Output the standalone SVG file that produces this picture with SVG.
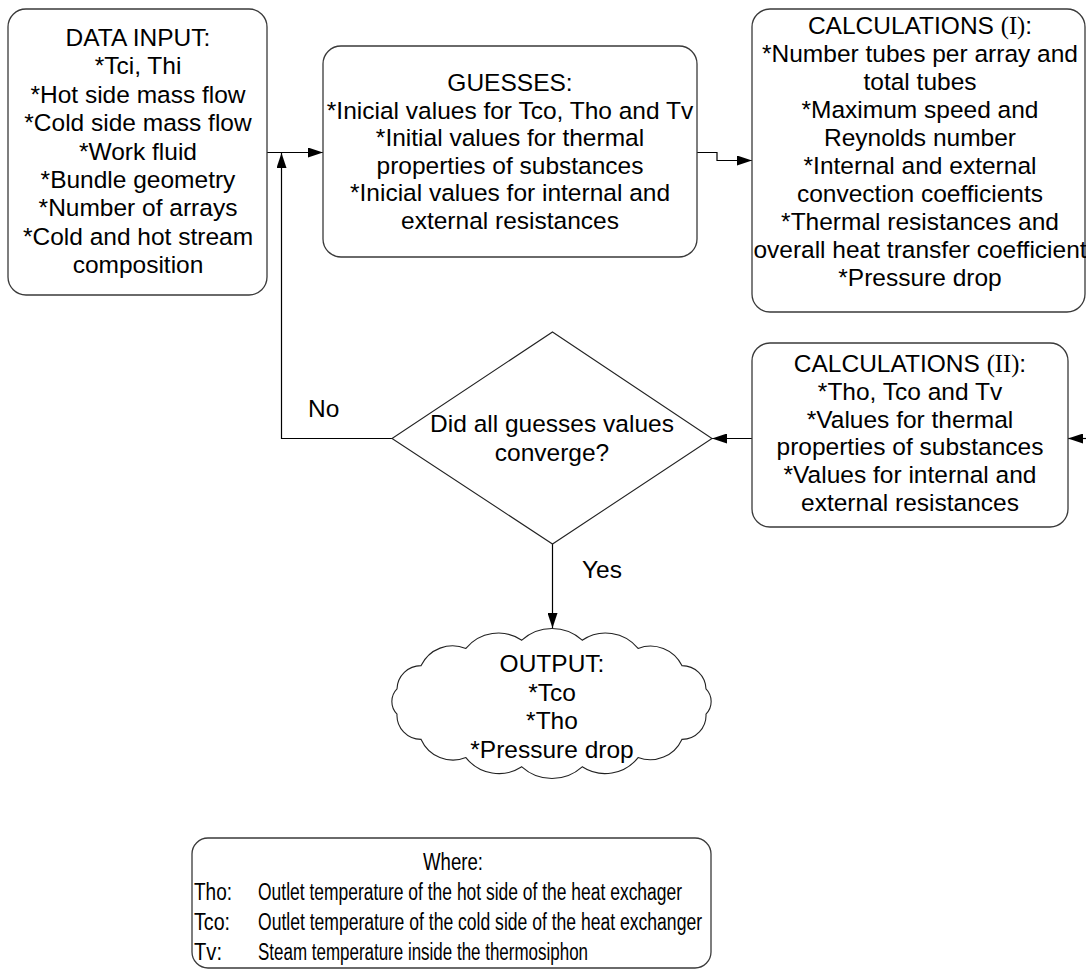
<svg xmlns="http://www.w3.org/2000/svg" width="1086" height="976" viewBox="0 0 1086 976">
  <defs>
    <marker id="arrow" markerUnits="userSpaceOnUse" markerWidth="15" markerHeight="10" refX="15" refY="5" orient="auto">
      <path d="M0,0 L15,5 L0,10 z" fill="#000"/>
    </marker>
    <style>
      .box { fill: #fff; stroke: #3a3a3a; stroke-width: 1.3; }
      .shape { fill: #fff; stroke: #222; stroke-width: 1.1; }
      .txt { font-family: "Liberation Sans", Arial, sans-serif; font-size: 24.5px; fill: #000; text-anchor: middle; }
      .lbl { font-family: "Liberation Sans", Arial, sans-serif; font-size: 24.5px; fill: #000; }
      .leg { font-family: "Liberation Sans", Arial, sans-serif; font-size: 23px; fill: #000; }
      .serif { font-family: "Liberation Serif", "Times New Roman", serif; }
      .conn { fill: none; stroke: #000; stroke-width: 1.2; }
    </style>
  </defs>
  <rect width="1086" height="976" fill="#fff"/>

  <!-- connectors -->
  <g id="connectors">
    <path class="conn" d="M267,152.5 H323" marker-end="url(#arrow)"/>
    <path class="conn" d="M392,438.5 H281.5 V153" marker-end="url(#arrow)"/>
    <path class="conn" d="M697,152.5 H717 V160.5 H752" marker-end="url(#arrow)"/>
    <path class="conn" d="M1095,438.5 H1068" marker-end="url(#arrow)"/>
    <path class="conn" d="M752,438.5 H712" marker-end="url(#arrow)"/>
    <path class="conn" d="M552.5,544 V628" marker-end="url(#arrow)"/>
    <text class="lbl" x="308" y="417">No</text>
    <text class="lbl" x="582" y="578">Yes</text>
  </g>

  <!-- input data -->
  <g id="data-input">
    <rect class="box" x="8" y="9" width="259" height="286" rx="18"/>
    <text class="txt" x="138" y="46">DATA INPUT:</text>
    <text class="txt" x="138" y="74.4">*Tci, Thi</text>
    <text class="txt" x="138" y="102.8">*Hot side mass flow</text>
    <text class="txt" x="138" y="131.2">*Cold side mass flow</text>
    <text class="txt" x="138" y="159.6">*Work fluid</text>
    <text class="txt" x="138" y="188">*Bundle geometry</text>
    <text class="txt" x="138" y="216.4">*Number of arrays</text>
    <text class="txt" x="138" y="244.8">*Cold and hot stream</text>
    <text class="txt" x="138" y="273.2">composition</text>
  </g>

  <!-- initial guesses -->
  <g id="guesses">
    <rect class="box" x="323" y="46" width="374" height="211" rx="18"/>
    <text class="txt" x="510" y="91">GUESSES:</text>
    <text class="txt" x="510" y="118.6">*Inicial values for Tco, Tho and Tv</text>
    <text class="txt" x="510" y="146.2">*Initial values for thermal</text>
    <text class="txt" x="510" y="173.8">properties of substances</text>
    <text class="txt" x="510" y="201.4">*Inicial values for internal and</text>
    <text class="txt" x="510" y="229">external resistances</text>
  </g>

  <!-- first calculation block -->
  <g id="calculations-1">
    <rect class="box" x="752" y="9" width="333" height="303" rx="18"/>
    <text class="txt" x="920" y="34">CALCULATIONS <tspan class="serif">(I)</tspan>:</text>
    <text class="txt" x="920" y="62">*Number tubes per array and</text>
    <text class="txt" x="920" y="90">total tubes</text>
    <text class="txt" x="920" y="118">*Maximum speed and</text>
    <text class="txt" x="920" y="146">Reynolds number</text>
    <text class="txt" x="920" y="174">*Internal and external</text>
    <text class="txt" x="920" y="202">convection coefficients</text>
    <text class="txt" x="920" y="230">*Thermal resistances and</text>
    <text class="txt" x="920" y="258">overall heat transfer coefficient</text>
    <text class="txt" x="920" y="286">*Pressure drop</text>
  </g>

  <!-- second calculation block -->
  <g id="calculations-2">
    <rect class="box" x="752" y="343" width="316" height="184" rx="18"/>
    <text class="txt" x="910" y="372">CALCULATIONS <tspan class="serif">(II)</tspan>:</text>
    <text class="txt" x="910" y="399.8">*Tho, Tco and Tv</text>
    <text class="txt" x="910" y="427.6">*Values for thermal</text>
    <text class="txt" x="910" y="455.4">properties of substances</text>
    <text class="txt" x="910" y="483.2">*Values for internal and</text>
    <text class="txt" x="910" y="511">external resistances</text>
  </g>

  <!-- convergence check -->
  <g id="decision">
    <polygon class="shape" points="552.5,332 712,438.5 552.5,544 392,438.5"/>
    <text class="txt" x="552" y="432">Did all guesses values</text>
    <text class="txt" x="552" y="461">converge?</text>
  </g>

  <!-- results cloud -->
  <g id="output">
    <path class="shape" d="M706,714.1 A24,24 0 0 1 681.9,739.4 A35,35 0 0 1 638.1,757.6 A42,42 0 0 1 582.2,766.8 A45,45 0 0 1 521.8,766.8 A42,42 0 0 1 465.9,757.6 A35,35 0 0 1 421.1,739.4 A24,24 0 0 1 397,714.1 A18,18 0 0 1 397,688.9 A24,24 0 0 1 421.1,665.6 A35,35 0 0 1 465.9,648.4 A42,42 0 0 1 521.8,640.2 A45,45 0 0 1 582.2,640.2 A42,42 0 0 1 638.1,648.4 A35,35 0 0 1 681.9,665.6 A24,24 0 0 1 706,688.9 A18,18 0 0 1 706,714.1 z"/>
    <text class="txt" x="552" y="672">OUTPUT:</text>
    <text class="txt" x="552" y="700.5">*Tco</text>
    <text class="txt" x="552" y="729">*Tho</text>
    <text class="txt" x="552" y="757.5">*Pressure drop</text>
  </g>

  <!-- legend -->
  <g id="legend">
    <rect class="box" x="192" y="838" width="519" height="130" rx="16"/>
    <text class="leg" x="423" y="870" textLength="60" lengthAdjust="spacingAndGlyphs">Where:</text>
    <text class="leg" x="194" y="900" textLength="38" lengthAdjust="spacingAndGlyphs">Tho:</text>
    <text class="leg" x="258" y="900" textLength="424" lengthAdjust="spacingAndGlyphs">Outlet temperature of the hot side of the heat exchager</text>
    <text class="leg" x="194" y="930" textLength="36" lengthAdjust="spacingAndGlyphs">Tco:</text>
    <text class="leg" x="258" y="930" textLength="444" lengthAdjust="spacingAndGlyphs">Outlet temperature of the cold side of the heat exchanger</text>
    <text class="leg" x="194" y="960" textLength="28" lengthAdjust="spacingAndGlyphs">Tv:</text>
    <text class="leg" x="258" y="960" textLength="330" lengthAdjust="spacingAndGlyphs">Steam temperature inside the thermosiphon</text>
  </g>
</svg>
